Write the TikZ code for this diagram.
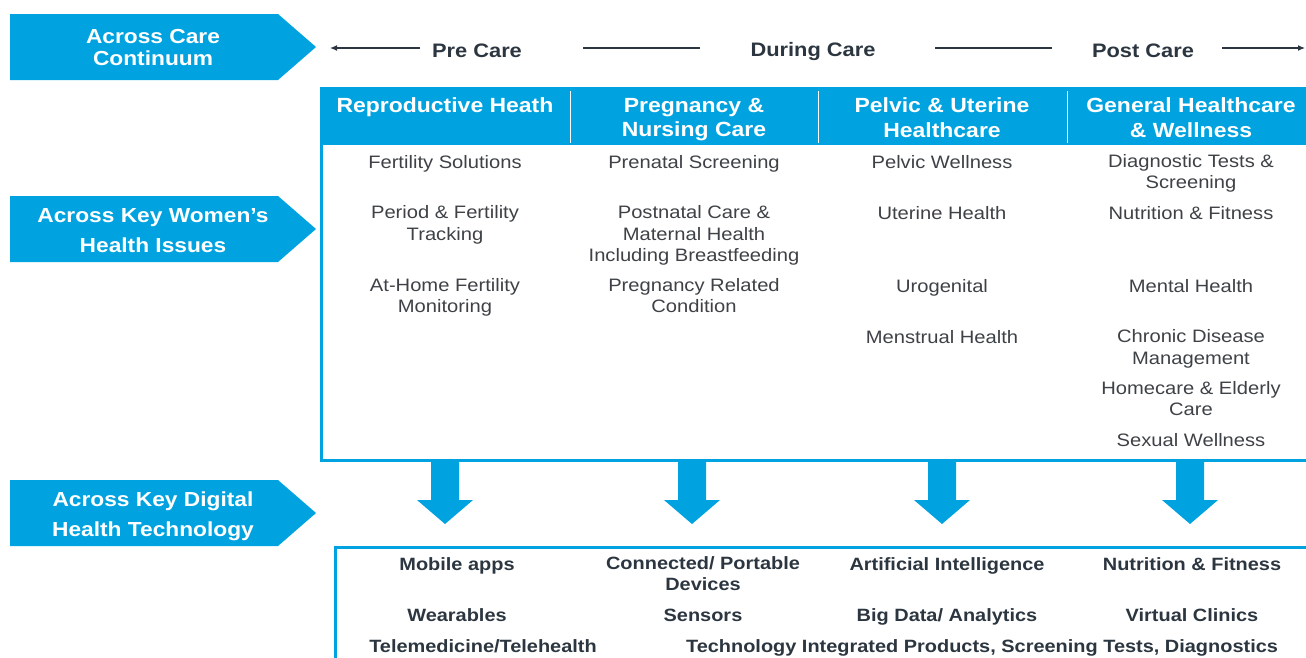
\documentclass[tikz,border=0pt]{standalone}
\usepackage{fontspec}
\setmainfont[FakeStretch=1.12]{Liberation Sans}
\usetikzlibrary{arrows.meta}
\definecolor{cblue}{RGB}{0,163,224}
\definecolor{cgray}{RGB}{62,66,70}
\definecolor{cdark}{RGB}{44,54,64}
\begin{document}
\begin{tikzpicture}[x=1pt,y=-1pt,
			strutted/.style={execute at begin node=\strut,execute at end node=\strut},
			tag/.style={fill=cblue},
			tagtxt/.style={strutted,text=white,font=\fontsize{20.3}{22}\selectfont\bfseries,align=center,inner sep=0pt},
			tagtxtw/.style={tagtxt,font=\fontsize{20.3}{30}\selectfont\bfseries},
			phase/.style={strutted,text=cdark,font=\fontsize{19.5}{22}\selectfont\bfseries,inner sep=0pt},
			phaseline/.style={draw=cdark,line width=1.2pt},
			colhead/.style={strutted,text=white,font=\fontsize{20.5}{24.5}\selectfont\bfseries,align=center,inner sep=0pt},
			item/.style={strutted,text=cgray,font=\fontsize{18}{21.5}\selectfont,align=center,inner sep=0pt},
			tech/.style={strutted,text=cdark,font=\fontsize{17.8}{21}\selectfont\bfseries,align=center,inner sep=0pt},
			frame/.style={draw=cblue,line width=3pt},
			inner sep=0pt]
			\useasboundingbox (0,0) rectangle (1306,657);
			\clip (0,0) rectangle (1306,657);
			% tags on the left
			\fill [tag] (10,14) -- (278,14) -- (316,47) -- (278,80) -- (10,80) -- cycle;
			\fill [tag] (10,196) -- (278,196) -- (316,229) -- (278,262) -- (10,262) -- cycle;
			\fill [tag] (10,480) -- (278,480) -- (316,513) -- (278,546) -- (10,546) -- cycle;
			\node [tagtxt] (TagCare) at (153,51) {Across Care\\Continuum};
			\node [tagtxtw] (TagIssues) at (153,234.8) {Across Key Women’s\\Health Issues};
			\node [tagtxtw] (TagTech) at (153,518.3) {Across Key Digital\\Health Technology};
			% care continuum
			\node [phase] (PreCare) at (477,53.5) {Pre Care};
			\node [phase] (DuringCare) at (813,52.5) {During Care};
			\node [phase] (PostCare) at (1143,53.5) {Post Care};
			\coordinate (L0) at (330,48); \coordinate (L1) at (420,48);
			\coordinate (L2) at (583,48); \coordinate (L3) at (700,48);
			\coordinate (L4) at (935,48); \coordinate (L5) at (1052,48);
			\coordinate (L6) at (1222,48); \coordinate (L7) at (1305,48);
			\draw [phaseline,-{Latex[length=7pt,width=6pt]}] (L1) -- (L0);
			\draw [phaseline] (L2) -- (L3);
			\draw [phaseline] (L4) -- (L5);
			\draw [phaseline,-{Latex[length=7pt,width=6pt]}] (L6) -- (L7);
			% issues table
			\fill [cblue] (320,88) rectangle (1310,145);
			\draw [frame] (1310,88) -- (321,88) -- (321,460) -- (1310,460);
			\foreach \x in {570,818,1067}
				\draw [white,line width=1pt] (\x,91) -- (\x,143);
			\node [colhead] (HRepro) at (445,107.5) {Reproductive Heath};
			\node [colhead] (HPreg) at (694,121) {Pregnancy \&\\Nursing Care};
			\node [colhead] (HPelvic) at (942,121) {Pelvic \& Uterine\\Healthcare};
			\node [colhead] (HGeneral) at (1191,121) {General Healthcare\\\& Wellness};
			\node [item] (Repro1) at (445,164) {Fertility Solutions};
			\node [item] (Repro2) at (445,226) {Period \& Fertility\\Tracking};
			\node [item] (Repro3) at (445,298.5) {At-Home Fertility\\Monitoring};
			\node [item] (Preg1) at (694,164) {Prenatal Screening};
			\node [item] (Preg2) at (694,237) {Postnatal Care \&\\Maternal Health\\Including Breastfeeding};
			\node [item] (Preg3) at (694,298.5) {Pregnancy Related\\Condition};
			\node [item] (Pelvic1) at (942,164) {Pelvic Wellness};
			\node [item] (Pelvic2) at (942,215) {Uterine Health};
			\node [item] (Pelvic3) at (942,288) {Urogenital};
			\node [item] (Pelvic4) at (942,339) {Menstrual Health};
			\node [item] (General1) at (1191,174.5) {Diagnostic Tests \&\\Screening};
			\node [item] (General2) at (1191,215) {Nutrition \& Fitness};
			\node [item] (General3) at (1191,288) {Mental Health};
			\node [item] (General4) at (1191,350) {Chronic Disease\\Management};
			\node [item] (General5) at (1191,401.5) {Homecare \& Elderly\\Care};
			\node [item] (General6) at (1191,442) {Sexual Wellness};
			% block arrows
			\foreach \x in {445,692,942,1190}
				\fill [cblue] (\x-14,461) -- (\x+14,461) -- (\x+14,500) -- (\x+28,500)
					-- (\x,524) -- (\x-28,500) -- (\x-14,500) -- cycle;
			% technology box
			\draw [frame] (1310,547) -- (335,547) -- (335,662);
			\node [tech] (Tech1) at (457,566.5) {Mobile apps};
			\node [tech] (Tech2) at (703,577) {Connected/ Portable\\Devices};
			\node [tech] (Tech3) at (947,566.5) {Artificial Intelligence};
			\node [tech] (Tech4) at (1192,566.5) {Nutrition \& Fitness};
			\node [tech] (Tech5) at (457,617.5) {Wearables};
			\node [tech] (Tech6) at (703,617.5) {Sensors};
			\node [tech] (Tech7) at (947,617.5) {Big Data/ Analytics};
			\node [tech] (Tech8) at (1192,617.5) {Virtual Clinics};
			\node [tech] (Tech9) at (483,648.5) {Telemedicine/Telehealth};
			\node [tech] (Tech10) at (982,648.5) {Technology Integrated Products, Screening Tests, Diagnostics};
		\end{tikzpicture}
\end{document}
